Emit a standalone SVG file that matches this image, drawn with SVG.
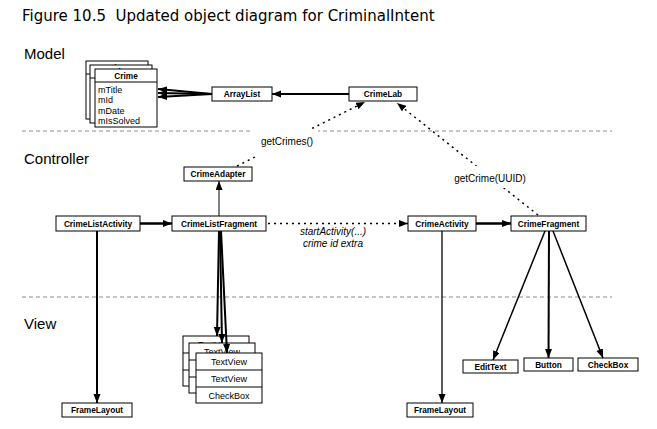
<svg xmlns="http://www.w3.org/2000/svg" width="657" height="429" viewBox="0 0 657 429">
<defs>
<style>
.box{fill:#fff;stroke:#000;stroke-width:1}
.bl{font-family:"Liberation Sans",Arial,sans-serif;font-size:8.3px;font-weight:bold;text-anchor:middle;fill:#000}
.fl{font-family:"Liberation Sans",Arial,sans-serif;font-size:9px;fill:#000}
.tv{font-family:"Liberation Sans",Arial,sans-serif;font-size:9px;text-anchor:middle;fill:#000}
.sec{font-family:"Liberation Sans",Arial,sans-serif;font-size:15px;fill:#000}
.lab{font-family:"Liberation Sans",Arial,sans-serif;font-size:10px;fill:#000;text-anchor:middle}
.sep{stroke:#8a8a8a;stroke-width:1;stroke-dasharray:4 3;fill:none}
.c{stroke:#000;fill:none}
.dot{stroke:#000;fill:none;stroke-width:1.5;stroke-dasharray:2 4}
</style>
<marker id="ah" markerUnits="userSpaceOnUse" markerWidth="10" markerHeight="8" refX="9" refY="3.5" orient="auto">
<path d="M0,0 L9,3.5 L0,7 z" fill="#000"/>
</marker>
</defs>
<rect width="657" height="429" fill="#fff"/>
<text x="22" y="21" xml:space="preserve" style="font-family:'DejaVu Sans',sans-serif;font-size:15px;white-space:pre" fill="#000">Figure 10.5  Updated object diagram for CriminalIntent</text>
<text class="sec" x="24" y="59">Model</text>
<text class="sec" x="24" y="164">Controller</text>
<text class="sec" x="24" y="329">View</text>
<g id="separators">
<line class="sep" x1="22" y1="131" x2="612" y2="131"/>
<line class="sep" x1="22" y1="297" x2="612" y2="297"/>
</g>
<g id="crime">
<rect class="box" x="86" y="61" width="62" height="58"/>
<line class="c" x1="86" y1="74" x2="148" y2="74"/>
<text class="bl" x="117" y="71">Crime</text>
<rect class="box" x="90" y="65" width="62" height="58"/>
<line class="c" x1="90" y1="78" x2="152" y2="78"/>
<text class="bl" x="121" y="75">Crime</text>
<rect class="box" x="95" y="69" width="62" height="58"/>
<line class="c" x1="95" y1="82" x2="157" y2="82"/>
<text class="bl" x="126" y="79">Crime</text>
<text class="fl" x="98" y="93">mTitle</text>
<text class="fl" x="98" y="103.3">mId</text>
<text class="fl" x="98" y="113.6">mDate</text>
<text class="fl" x="98" y="124">mIsSolved</text>
</g>
<g id="arraylist"><rect class="box" x="212" y="87" width="60" height="14"/><text class="bl" x="242" y="97">ArrayList</text></g>
<g id="crimelab"><rect class="box" x="349" y="87" width="68" height="14"/><text class="bl" x="383" y="97">CrimeLab</text></g>
<g id="crimeadapter"><rect class="box" x="184" y="167" width="68" height="14"/><text class="bl" x="218" y="177">CrimeAdapter</text></g>
<g id="crimelistactivity"><rect class="box" x="56" y="216" width="84" height="15"/><text class="bl" x="98" y="226.5">CrimeListActivity</text></g>
<g id="crimelistfragment"><rect class="box" x="172" y="216" width="94" height="15"/><text class="bl" x="219" y="226.5">CrimeListFragment</text></g>
<g id="crimeactivity"><rect class="box" x="408" y="216" width="68" height="15"/><text class="bl" x="442" y="226.5">CrimeActivity</text></g>
<g id="crimefragment"><rect class="box" x="511" y="216" width="75" height="15"/><text class="bl" x="548.5" y="226.5">CrimeFragment</text></g>
<g id="framelayout1"><rect class="box" x="62" y="403" width="70" height="14"/><text class="bl" x="97" y="413">FrameLayout</text></g>
<g id="framelayout2"><rect class="box" x="407" y="403" width="66" height="14"/><text class="bl" x="440" y="413">FrameLayout</text></g>
<g id="viewstack">
<rect class="box" x="183" y="336" width="66" height="50"/>
<line class="c" x1="183" y1="353" x2="249" y2="353"/><line class="c" x1="183" y1="370" x2="249" y2="370"/>
<text class="tv" x="216" y="348">TextView</text>
<rect class="box" x="189" y="343" width="66" height="50"/>
<line class="c" x1="189" y1="360" x2="255" y2="360"/><line class="c" x1="189" y1="377" x2="255" y2="377"/>
<text class="tv" x="222" y="355">TextView</text>
<rect class="box" x="196" y="353" width="66" height="50"/>
<line class="c" x1="196" y1="370" x2="262" y2="370"/><line class="c" x1="196" y1="387" x2="262" y2="387"/>
<text class="tv" x="229" y="365">TextView</text>
<text class="tv" x="229" y="382">TextView</text>
<text class="tv" x="229" y="399">CheckBox</text>
</g>
<g id="edittext"><rect class="box" x="463" y="360" width="55" height="13"/><text class="bl" x="490.5" y="369.5">EditText</text></g>
<g id="button"><rect class="box" x="524" y="358" width="49" height="13"/><text class="bl" x="548.5" y="367.5">Button</text></g>
<g id="checkbox"><rect class="box" x="578" y="358" width="60" height="13"/><text class="bl" x="608" y="367.5">CheckBox</text></g>
<g id="connectors">
<line class="c" stroke-width="2" x1="212" y1="94" x2="158" y2="89" marker-end="url(#ah)"/>
<line class="c" stroke-width="2" x1="212" y1="94" x2="158" y2="93" marker-end="url(#ah)"/>
<line class="c" stroke-width="2" x1="212" y1="94" x2="158" y2="97" marker-end="url(#ah)"/>
<line class="c" stroke-width="2" x1="349" y1="94" x2="272" y2="94" marker-end="url(#ah)"/>
<line class="dot" x1="237" y1="166" x2="365" y2="102" marker-end="url(#ah)"/>
<line class="dot" x1="538" y1="215" x2="397" y2="103" marker-end="url(#ah)"/>
<line class="c" stroke-width="1" x1="219" y1="216" x2="219" y2="181" marker-end="url(#ah)"/>
<line class="c" stroke-width="2.5" x1="140" y1="223.5" x2="172" y2="223.5" marker-end="url(#ah)"/>
<line class="dot" x1="268" y1="223.5" x2="408" y2="223.5" marker-end="url(#ah)"/>
<line class="c" stroke-width="2.5" x1="476" y1="223.5" x2="511" y2="223.5" marker-end="url(#ah)"/>
<line class="c" stroke-width="2" x1="97" y1="231" x2="97" y2="403" marker-end="url(#ah)"/>
<line class="c" stroke-width="1.3" x1="442" y1="231" x2="442" y2="403" marker-end="url(#ah)"/>
<line class="c" stroke-width="2" x1="219" y1="231" x2="217" y2="336" marker-end="url(#ah)"/>
<line class="c" stroke-width="2" x1="220" y1="231" x2="222" y2="343" marker-end="url(#ah)"/>
<line class="c" stroke-width="2" x1="221" y1="231" x2="227" y2="353" marker-end="url(#ah)"/>
<line class="c" stroke-width="1.5" x1="545" y1="231" x2="493" y2="360" marker-end="url(#ah)"/>
<line class="c" stroke-width="2" x1="549" y1="231" x2="548.5" y2="358" marker-end="url(#ah)"/>
<line class="c" stroke-width="1.5" x1="553" y1="231" x2="603" y2="358" marker-end="url(#ah)"/>
</g>
<g id="labels">
<rect x="253" y="129" width="65" height="27" fill="#fff"/>
<text class="lab" x="287" y="145">getCrimes()</text>
<rect x="450" y="166" width="80" height="22" fill="#fff"/>
<text class="lab" x="490" y="182">getCrime(UUID)</text>
<text class="lab" x="333" y="235" font-style="italic">startActivity(...)</text>
<text class="lab" x="333" y="246.5" font-style="italic">crime id extra</text>
</g>
</svg>
